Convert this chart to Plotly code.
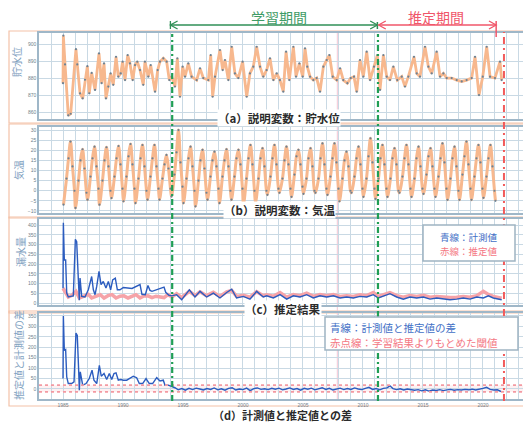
import plotly.graph_objects as go

# page body has an 8px margin: the figure is drawn from (8, 8) of the window
OFF = 8
W, H = 531 - OFF, 423 - OFF
def px(x): return (x - OFF) / W
def py(y): return 1 - (y - OFF) / H

# ---------------- data ----------------
# (a) reservoir level (decimal year, value)
level_years = [1985.00,1985.03,1985.17,1985.44,1985.64,1986.08,1986.19,1986.42,1986.64,1986.83,1987.03,1987.19,1987.39,1987.67,
 1988.00,1988.22,1988.42,1988.58,1988.78,1988.97,1989.19,1989.42,1989.61,1989.81,1989.97,1990.17,1990.39,1990.58,1990.81,
 1991.00,1991.19,1991.42,1991.69,1991.83,1992.11,1992.31,1992.67,1992.89,1993.08,1993.36,1993.64,1993.86,1994.06,1994.33,
 1994.53,1994.75,1994.97,1995.17,1995.44,1995.72,1996.14,1996.42,1996.69,1997.11,1997.31,1997.47,1997.67,1998.08,1998.31,
 1998.50,1998.78,1999.06,1999.33,1999.61,1999.97,2000.31,2000.58,2000.86,2001.14,2001.42,2001.69,
 2001.97,2002.25,2002.53,2002.81,2003.08,2003.36,2003.59,2003.86,2004.20,2004.42,2004.70,2004.98,
 2005.17,2005.36,2005.59,2005.86,2006.14,2006.42,2006.70,2006.98,2007.20,2007.48,2007.81,2008.09,2008.36,2008.70,2008.98,
 2009.25,2009.48,2009.75,2010.03,2010.31,2010.59,2010.92,2011.20,2011.42,2011.70,2011.98,2012.25,2012.53,2012.86,2013.23,
 2013.50,2013.78,2014.25,2014.48,2014.75,2015.17,2015.45,2015.73,2016.14,2016.42,2016.70,2016.98,2017.39,2017.81,2018.23,
 2018.64,2019.06,2019.34,2019.67,2019.98,2020.31,2020.59,2021.00,2021.42,2021.56]
level_vals = [877,905,888,858,859,897,888,871,868,879,887,871,883,873,
 894.5,877,888.6,868,875,882.7,876,892.5,880.8,882.7,889.6,878.8,893.5,888.6,878.8,
 887.6,889.6,884.7,876,889.6,880.8,887.6,872,884.7,889.6,891.6,889.6,878.8,880.8,875,
 891.6,869,886.7,880.8,888.6,880.8,878.8,885.7,880,878.8,893.5,869,880.8,896.5,884.7,
 890.6,878.8,898.4,882.7,880,889.6,869,882.7,886.7,898.4,886.7,880.8,
 884.7,891.6,878.8,882.7,878.8,872,895.5,878.8,898.4,880.8,888.6,880.8,
 897.5,886.7,880.8,878.8,880,872,886.7,890.6,893.5,880.8,878.8,885.7,878.8,877,880,
 880.8,872,890.6,880.8,895.5,878.8,886.7,893.5,873,893.5,880.8,878.8,886.7,878.8,880.8,
 875,880.8,892.5,882.7,880.8,898.4,886.7,882.7,895.5,880.8,882.7,880,880,878.8,878,
 878.8,880,892.5,870,880.8,898.4,880.8,880,889.6,878.8]

# (b) air temperature, six readings per year (Jan, Apr, Jun, Aug, Oct, Dec)
temp_months = [1, 4, 6, 8, 10, 12]
temp_first_year = 1985
temp_values = [
 -6.9, 6, 16, 24.3, 12, 0,
 -8.5, 5, 15, 20.5, 11, -1,
 -4.4, 7, 16, 21.8, 12, 1,
 -6.9, 5, 15, 21.5, 12, 0,
 -3.6, 7, 16, 22.1, 13, 1,
 -5.2, 7, 17, 23.1, 13, 1,
 -6.1, 6, 16, 22.6, 12, 0,
 -4.4, 7, 16, 22.6, 12, 1,
 -4.4, 6, 13, 17.7, 11, 1,
 -2.8, 8, 19, 30.0, 14, 2,
 -6.1, 6, 16, 21.8, 12, 0,
 -7.7, 5, 15, 20.2, 11, -1,
 -4.4, 7, 15, 19.3, 12, 1,
 -6.1, 7, 15, 20.5, 12, 0,
 -4.4, 7, 16, 20.2, 13, 1,
 -6.9, 6, 16, 22.6, 13, 0,
 -6.1, 6, 16, 21.0, 12, 0,
 -2.0, 7, 16, 22.6, 13, 1,
 -1.0, 6, 15, 21.8, 13, 1,
 -3.0, 8, 17, 20.2, 13, 2,
 -1.5, 6, 16, 21.0, 12, 0,
 -1.0, 6, 16, 23.4, 13, 1,
 -2.0, 7, 16, 23.4, 14, 1,
 -5.2, 6, 15, 19.3, 12, 0,
 -1.0, 7, 16, 21.8, 13, 1,
 -3.0, 6, 17, 25.9, 14, 1,
 -4.0, 6, 16, 22.6, 13, 1,
 -3.0, 6, 16, 21.0, 13, 0,
 -1.0, 7, 16, 22.6, 13, 1,
 -3.0, 6, 16, 21.8, 12, 1,
 -1.5, 8, 17, 21.0, 12, 1,
 -3.0, 7, 16, 23.4, 14, 1,
 -4.5, 6, 16, 21.8, 12, 0,
 -4.5, 8, 17, 24.3, 13, 1,
 -4.5, 7, 16, 22.6, 14, 1,
 -3.5, 7, 16, 22.6, 12, 0,
 -5.0,
]

# (c) leakage: measured (blue)
meas_years = [1985.00,1985.03,1985.11,1985.22,1985.31,1985.44,1985.64,1985.86,1986.03,1986.14,1986.28,1986.36,1986.42,
 1986.56,1986.83,1987.11,1987.39,1987.53,1987.67,1987.81,1988.00,1988.17,1988.36,1988.58,1988.78,1988.97,1989.14,1989.36,
 1989.53,1989.75,1990.03,1990.75,1991.42,1991.58,1991.86,1992.08,1992.25,1992.42,1993.42,1993.56,1993.83,1994.08,
 1994.47,1994.89,1995.53,1996.00,1996.42,1996.97,1997.53,1998.08,1998.64,1999.06,1999.47,2000.03,2000.58,2001.14,2001.69,
 2001.98,2002.53,2003.09,2003.64,2004.20,2004.75,2005.31,2005.86,2006.42,2006.98,2007.53,2008.09,2008.64,2009.20,2009.75,
 2010.31,2010.86,2011.28,2011.70,2012.25,2012.81,2013.36,2013.92,2014.48,2015.03,2015.59,2016.14,2016.70,2017.25,2017.81,
 2018.36,2018.92,2019.48,2020.03,2020.45,2020.86,2021.28,2021.56]
meas_vals = [76,412,221,221,51,31,34,37,327,315,119,14,128,
 34,31,68,136,68,43,85,162,94,111,77,111,68,119,128,
 68,68,80,75,95,45,43,90,65,60,82,55,40,37,
 43,17,68,31,60,31,51,26,54,71,26,34,20,60,31,
 37,26,43,20,37,31,43,26,37,31,37,26,31,26,34,
 31,43,26,37,48,31,20,31,26,31,20,26,20,17,20,
 26,20,31,26,37,26,20,17]

# (c) leakage: estimated (red)
est_years = [1985.00,1985.15,1985.44,1985.75,1986.08,1986.36,1986.75,1987.11,1987.39,1987.75,1988.11,1988.42,1988.75,
 1989.08,1989.42,1989.75,1990.08,1990.42,1990.75,1991.08,1991.42,1991.75,1992.08,1992.42,1992.75,1993.08,1993.42,1993.75,
 1994.08,1994.47,1994.89,1995.53,1996.00,1996.42,1996.97,1997.53,1998.08,1998.64,1999.06,1999.47,2000.03,2000.58,2001.14,
 2001.69,2001.98,2002.53,2003.09,2003.64,2004.20,2004.75,2005.31,2005.86,2006.42,2006.98,2007.53,2008.09,2008.64,2009.20,
 2009.75,2010.31,2010.86,2011.28,2011.70,2012.25,2012.81,2013.36,2013.92,2014.48,2015.03,2015.59,2016.14,2016.70,2017.25,
 2017.81,2018.36,2018.92,2019.48,2020.03,2020.45,2020.86,2021.28,2021.56]
est_vals = [76,60,31,40,60,26,37,45,26,35,43,26,38,
 43,26,35,37,26,36,43,26,36,37,28,35,31,28,43,
 31,48,28,60,38,58,38,55,34,58,65,34,40,30,58,
 38,42,35,54,30,44,38,51,34,44,38,44,34,38,34,
 42,38,54,34,44,54,38,30,38,34,40,30,34,30,28,
 30,34,30,38,60,44,34,28,25]

# (d) difference measured - estimated
diff_years = [1985.00,1985.03,1985.11,1985.22,1985.31,1985.44,1985.72,1985.92,1986.08,1986.19,1986.31,1986.36,1986.44,
 1986.64,1986.92,1987.19,1987.42,1987.58,1987.81,1988.03,1988.19,1988.42,1988.64,1988.86,1989.06,1989.25,1989.42,1989.61,
 1989.81,1990.03,1990.31,1990.58,1990.86,1991.14,1991.36,1991.64,1991.92,1992.19,1992.47,1992.81,1993.08,1993.36,1993.50,
 1993.78,1994.06,1994.33,1994.6,1994.9,1995.2,1995.5,1995.8,1996.1,1996.4,1996.7,1997.0,1997.3,1997.6,1997.9,1998.2,
 1998.5,1998.8,1999.1,1999.4,1999.7,2000.0,2000.3,2000.6,2000.9,2001.2,2001.5,2001.8,2002.1,2002.4,2002.7,2003.0,2003.3,
 2003.6,2003.9,2004.2,2004.5,2004.8,2005.1,2005.4,2005.7,2006.0,2006.3,2006.6,2006.9,2007.2,2007.5,2007.8,2008.1,2008.4,
 2008.7,2009.0,2009.3,2009.6,2009.9,2010.2,2010.5,2010.8,2011.1,2011.4,2011.7,2012.0,2012.25,2012.5,2012.8,2013.1,2013.4,
 2013.7,2014.0,2014.3,2014.6,2014.9,2015.2,2015.5,2015.8,2016.1,2016.4,2016.7,2017.0,2017.3,2017.6,2017.9,2018.2,2018.5,
 2018.8,2019.1,2019.4,2019.7,2020.0,2020.3,2020.6,2020.9,2021.2,2021.5]
diff_vals = [50,350,185,189,58,26,26,34,268,257,82,-6,82,
 18,26,50,90,42,26,113,61,74,45,74,45,74,77,42,
 45,42,42,50,61,54,26,26,50,26,26,54,38,42,18,
 18,13,6,-4,2,-6,3,-3,4,0,-5,2,-2,5,-4,1,
 -6,3,6,-5,0,-3,4,-8,2,5,-2,1,-3,3,-1,4,-4,
 0,5,-2,2,-6,3,-1,4,-4,2,6,-2,3,-5,1,4,-3,
 2,-2,5,0,-3,3,8,-2,2,-4,3,5,15,2,-3,1,-5,
 0,-2,-6,-3,-9,-4,-10,-5,-7,-3,-8,-4,-2,-6,-3,-5,-2,
 -4,-1,-5,-2,3,8,-2,-5,-4,-12]

thr_upper, thr_lower = 18, -14
train_start, train_end, pred_end = 1994.1, 2011.25, 2021.75
pink_mark_year = 2007.86

# ---------------- styling ----------------
X_RANGE = [1983.0, 2023.42]
GRID = "#c9d9e4"
BORDER = "#9fb7c8"
TICKF = dict(family="Liberation Sans", size=5, color="#6f7f8c")
CJK = "Noto Sans CJK JP"
ORANGE = "#f7b88e"
DOT = "#6c8294"
BLUE = "#2b5cbf"
PINK = "#f6a3a8"

temp_x, temp_y = [], []
for i, v in enumerate(temp_values):
    yr = temp_first_year + i // len(temp_months)
    m = temp_months[i % len(temp_months)]
    temp_x.append(yr + (m - 0.5) / 12)
    temp_y.append(v)

fig = go.Figure()
fig.add_trace(go.Scatter(x=level_years, y=level_vals, mode="lines+markers", line=dict(color=ORANGE, width=2.8),
                         marker=dict(size=2.2, color=DOT), xaxis="x", yaxis="y", showlegend=False))
fig.add_trace(go.Scatter(x=temp_x, y=temp_y, mode="lines+markers", line=dict(color=ORANGE, width=3, shape="spline"),
                         marker=dict(size=2.2, color=DOT), xaxis="x2", yaxis="y2", showlegend=False))
fig.add_trace(go.Scatter(x=est_years, y=est_vals, mode="lines", line=dict(color=PINK, width=3.5),
                         xaxis="x3", yaxis="y3", showlegend=False))
fig.add_trace(go.Scatter(x=meas_years, y=meas_vals, mode="lines", line=dict(color=BLUE, width=1.4),
                         xaxis="x3", yaxis="y3", showlegend=False))
fig.add_trace(go.Scatter(x=diff_years, y=diff_vals, mode="lines", line=dict(color=BLUE, width=1.4),
                         xaxis="x4", yaxis="y4", showlegend=False))

def xax(anchor, labels=False):
    return dict(range=X_RANGE, domain=[px(39), px(524)], anchor=anchor, tick0=1985, dtick=5,
                showgrid=True, gridcolor=GRID, gridwidth=1,
                minor=dict(tick0=1985, dtick=1, showgrid=True, gridcolor=GRID, gridwidth=1),
                showline=True, mirror=True, linecolor=BORDER, linewidth=1.5, zeroline=False,
                ticks="", showticklabels=labels, tickfont=TICKF, automargin=False, fixedrange=True)

def yax(anchor, rng, top, bottom, dtick, tick0):
    return dict(range=rng, domain=[py(bottom), py(top)], anchor=anchor, dtick=dtick, tick0=tick0,
                showgrid=True, gridcolor=GRID, gridwidth=1, showline=True, mirror=True,
                linecolor=BORDER, linewidth=1.5, zeroline=False, ticks="", tickfont=TICKF,
                automargin=False, fixedrange=True)

fig.update_layout(
    width=W, height=H, margin=dict(l=0, r=0, t=0, b=0),
    paper_bgcolor="white", plot_bgcolor="white",
    xaxis=xax("y"), xaxis2=xax("y2"), xaxis3=xax("y3"), xaxis4=xax("y4", True),
    yaxis=yax("x", [855.9, 906.5], 33, 119, 10, 860),
    yaxis2=yax("x2", [-11, 31.5], 127, 213, 5, -10),
    yaxis3=yax("x3", [-10, 431], 219, 305, 50, 0),
    yaxis4=yax("x4", [-48, 364], 313, 399, 50, 0),
)

shapes = []
FR = "#f3c2a8"
# outer frames
for (t, b) in [(31, 123), (124, 218), (217, 313), (311, 406)]:
    shapes.append(dict(type="rect", xref="paper", yref="paper", x0=px(9), x1=px(529), y0=py(b), y1=py(t),
                       line=dict(color=FR, width=1.2), fillcolor="rgba(0,0,0,0)", layer="below"))

# threshold band & lines in (d)
shapes.append(dict(type="rect", xref="x4 domain", yref="y4", x0=0, x1=1, y0=thr_lower, y1=thr_upper,
                   fillcolor="rgba(246,163,168,0.15)", line=dict(width=0), layer="below"))
for thr in (thr_upper, thr_lower):
    shapes.append(dict(type="line", xref="x4 domain", yref="y4", x0=0, x1=1, y0=thr, y1=thr,
                       line=dict(color="#f39aa2", width=1.8, dash="dot")))

# faint pink marker line
shapes.append(dict(type="line", xref="x", yref="paper", x0=pink_mark_year, x1=pink_mark_year, y0=py(399), y1=py(33),
                   line=dict(color="#f6c6d4", width=1), layer="below"))
# period boundaries
for yr in (train_start, train_end):
    shapes.append(dict(type="line", xref="x", yref="paper", x0=yr, x1=yr, y0=py(401), y1=py(34),
                       line=dict(color="#1f9e55", width=2.2, dash="6px,3px,2px,3px")))
shapes.append(dict(type="line", xref="x", yref="paper", x0=pred_end, x1=pred_end, y0=py(401), y1=py(32),
                   line=dict(color="#f25a5a", width=2, dash="7px,4px,2px,4px")))

# arrows at top
GREEN_T = "#2f8f57"
RED_T = "#f0566a"
AY = py(25)
def arrow(x0, x1, color, bar_left=False, bar_right=False, bar_right_len=(22, 29)):
    out = [dict(type="line", xref="x", yref="paper", x0=x0, x1=x1, y0=AY, y1=AY, line=dict(color=color, width=1.3))]
    dx = 0.6
    dy = 4 / H
    out.append(dict(type="path", xref="x", yref="paper",
                    path=f"M {x0+dx},{AY+dy} L {x0},{AY} L {x0+dx},{AY-dy}", line=dict(color=color, width=1.3)))
    out.append(dict(type="path", xref="x", yref="paper",
                    path=f"M {x1-dx},{AY+dy} L {x1},{AY} L {x1-dx},{AY-dy}", line=dict(color=color, width=1.3)))
    if bar_left:
        out.append(dict(type="line", xref="x", yref="paper", x0=x0, x1=x0, y0=py(29), y1=py(21),
                        line=dict(color=color, width=1.3)))
    if bar_right:
        out.append(dict(type="line", xref="x", yref="paper", x0=x1, x1=x1, y0=py(bar_right_len[1]), y1=py(bar_right_len[0]),
                        line=dict(color=color, width=1.5)))
    return out

shapes += arrow(train_start - 0.15, train_end - 0.05, GREEN_T, bar_left=True, bar_right=True)
shapes += arrow(train_end + 0.05, pred_end - 0.65, RED_T, bar_right=True, bar_right_len=(21, 37))

# legend boxes
shapes.append(dict(type="rect", xref="paper", yref="paper", x0=px(423), x1=px(515), y0=py(261), y1=py(225),
                   fillcolor="white", line=dict(color="#9fb4c2", width=1.5)))
shapes.append(dict(type="rect", xref="paper", yref="paper", x0=px(325), x1=px(518), y0=py(350), y1=py(317),
                   fillcolor="white", line=dict(color="#9fb4c2", width=1.5)))
fig.update_layout(shapes=shapes)

ann = []
def A(text, x, y, size, color, angle=0, bold=False, xanchor="center", bg=None):
    d = dict(text=(f"<b>{text}</b>" if bold else text), x=px(x), y=py(y), xref="paper", yref="paper",
             showarrow=False, textangle=angle, xanchor=xanchor, yanchor="middle",
             font=dict(family=CJK, size=size, color=color))
    if bg:
        d["bgcolor"] = bg
        d["borderpad"] = 0
    return d

ann.append(A("学習期間", 279, 17, 14, "#3f9c66"))
ann.append(A("推定期間", 436, 17, 14, RED_T))
ann.append(A("貯水位", 16, 62, 10, "#7fa2bf", angle=-90))
ann.append(A("気温", 18, 170, 10, "#7fa2bf", angle=-90))
ann.append(A("漏水量", 20, 252, 10, "#7fa2bf", angle=-90))
ann.append(A("推定値と計測値の差", 18, 355, 10, "#7fa2bf", angle=-90))
ann.append(A("（a）説明変数：貯水位", 279, 118, 11.5, "#2b2b2b", bold=True, bg="white"))
ann.append(A("（b）説明変数：気温", 279, 210, 11.5, "#2b2b2b", bold=True, bg="white"))
ann.append(A("（c）推定結果", 283, 309, 11.5, "#2b2b2b", bold=True, bg="white"))
ann.append(A("（d）計測値と推定値との差", 282, 415, 11, "#2b2b2b", bold=True))
ann.append(A("青線：計測値", 469, 237, 9.5, "#3f6fc6"))
ann.append(A("赤線：推定値", 469, 251, 9.5, "#f47884"))
ann.append(A("青線：計測値と推定値の差", 328, 327, 10.5, "#3f6fc6", xanchor="left"))
ann.append(A("赤点線：学習結果よりもとめた閾値", 328, 342, 10.5, "#f47884", xanchor="left"))
fig.update_layout(annotations=ann)

fig.write_html("out.html")
